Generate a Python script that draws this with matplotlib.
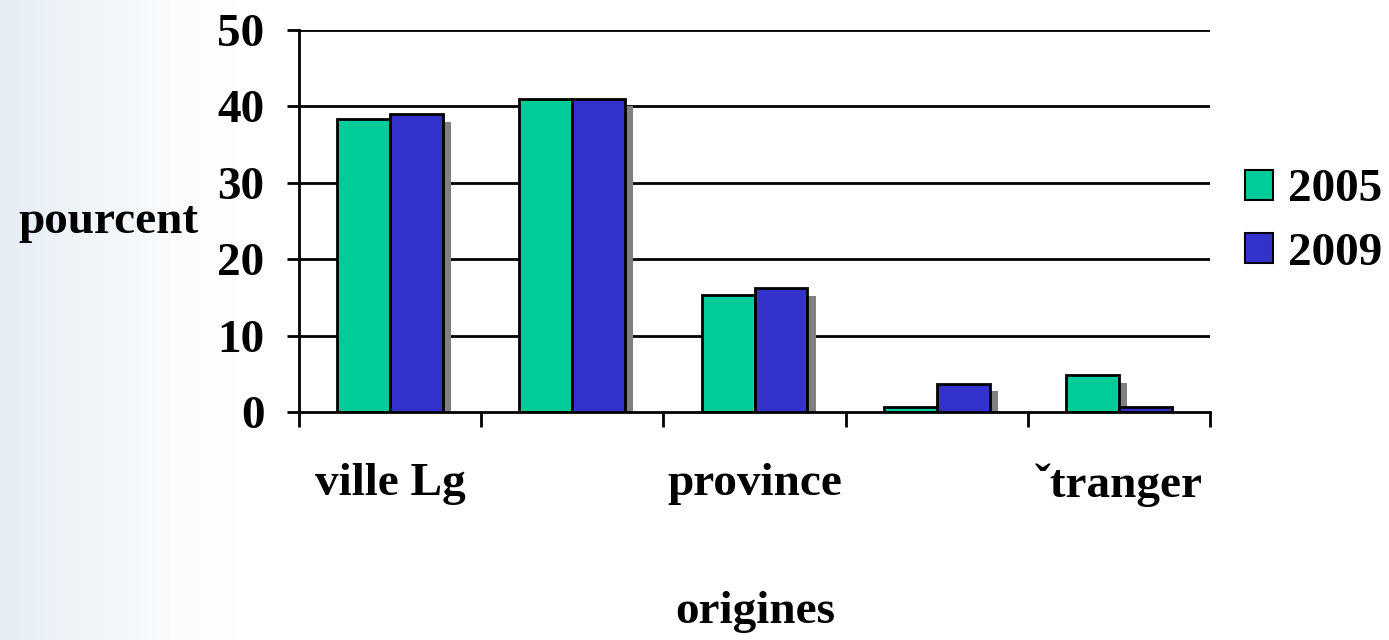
import matplotlib
matplotlib.use("Agg")
import matplotlib.pyplot as plt
import numpy as np
from matplotlib.patches import Patch

categories = ["ville Lg", "", "province", "", "\u02c7tranger"]
years = ["2005", "2009"]
values_2005 = [38.3, 41.0, 15.3, 0.6, 4.8]
values_2009 = [39.0, 41.0, 16.2, 3.7, 0.6]
yticks = [0, 10, 20, 30, 40, 50]

GREEN = "#00cc99"
BLUE = "#3333cc"
SHADOW = "#808080"
FS = 34

plt.rcParams["font.family"] = ["Liberation Serif", "DejaVu Serif"]
plt.rcParams["font.weight"] = "bold"

fig = plt.figure(figsize=(13.89, 6.4), dpi=100)

# soft bluish gradient on the left of the slide
bg = fig.add_axes([0, 0, 1, 1], zorder=-10)
xg = np.linspace(0, 1, 400)
fade = np.clip(1 - xg / 0.17, 0, 1) ** 1.2
left = np.array([0.90, 0.93, 0.96])
row = 1 - fade[:, None] * (1 - left[None, :])
img = np.repeat(row[None, :, :], 10, axis=0)
bg.imshow(img, aspect="auto", extent=[0, 1, 0, 1])
bg.axis("off")

ax = fig.add_axes([299 / 1389, 228 / 640, 911 / 1389, 382 / 640])
ax.patch.set_alpha(0)

n = len(categories)
centers = np.arange(n) + 0.5
w = 0.29
dx, dy = 0.045, 1.0

x05 = centers - w / 2
x09 = centers + w / 2
for xs, vals in [(x05, values_2005), (x09, values_2009)]:
    sh = [max(v - dy, 0) for v in vals]
    ax.bar(xs + dx, sh, w, color=SHADOW, zorder=2, linewidth=0)
ax.bar(x05, values_2005, w, color=GREEN, edgecolor="black", linewidth=2, zorder=3)
ax.bar(x09, values_2009, w, color=BLUE, edgecolor="black", linewidth=2, zorder=3)

for y in yticks[1:]:
    ax.axhline(y, color="black", linewidth=2, zorder=1)

ax.set_xlim(0, n)
ax.set_ylim(0, 50)
for s in ["top", "right"]:
    ax.spines[s].set_visible(False)
for s in ["left", "bottom"]:
    ax.spines[s].set_linewidth(2)
    ax.spines[s].set_zorder(4)

ax.set_yticks(yticks)
ax.set_yticklabels([str(t) for t in yticks], fontsize=FS, fontweight="bold")
ax.tick_params(axis="y", length=9, width=2, pad=16)

ax.set_xticks(np.arange(n + 1))
ax.set_xticklabels([])
ax.tick_params(axis="x", which="major", length=11, width=2, direction="out")
ax.set_xticks(centers, minor=True)
ax.set_xticklabels(categories, minor=True, fontsize=FS, fontweight="bold")
ax.tick_params(axis="x", which="minor", length=0, pad=37)

fig.text(18 / 1389, 1 - 222 / 640, "pourcent", fontsize=FS, fontweight="bold",
         ha="left", va="center")
fig.text(755 / 1389, 1 - 612 / 640, "origines", fontsize=FS, fontweight="bold",
         ha="center", va="center")

handles = [Patch(facecolor=GREEN, edgecolor="black", linewidth=1.5),
           Patch(facecolor=BLUE, edgecolor="black", linewidth=1.5)]
fig.legend(handles, years, loc="center left", bbox_to_anchor=(1245 / 1389, 1 - 222 / 640),
           frameon=False, prop={"size": FS, "weight": "bold"}, borderpad=0, borderaxespad=0,
           handlelength=0.6, handleheight=0.6, handletextpad=0.3, labelspacing=0.45)

fig.savefig("out.png", dpi=100)
